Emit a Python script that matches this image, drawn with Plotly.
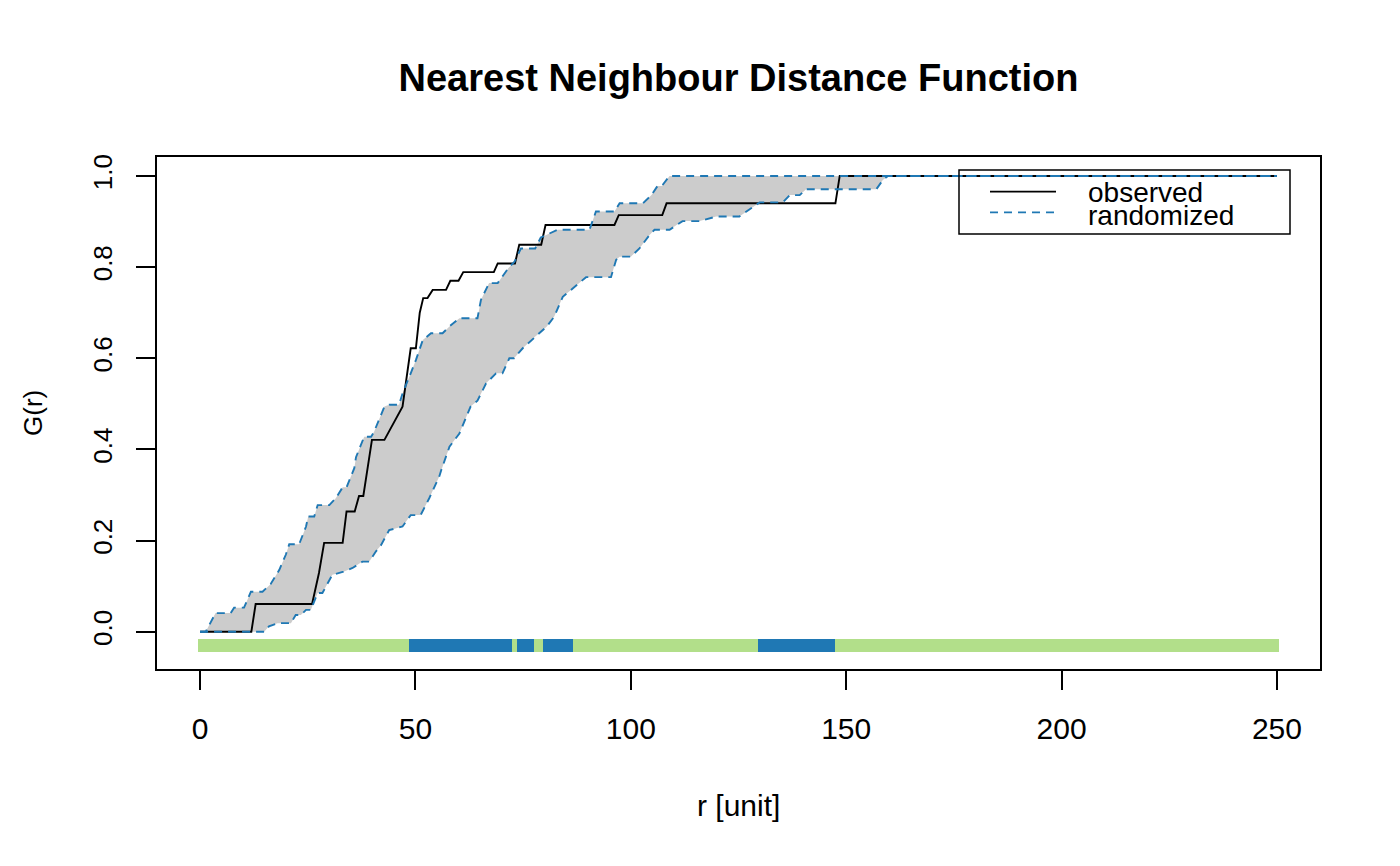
import plotly.graph_objects as go

# ---------------- data ----------------
# observed nearest-neighbour distance function G(r)
r_obs = [0, 11.9, 12.9, 26.0, 27.6, 28.8, 33.1, 34.0, 35.9, 36.9, 37.9, 39.9, 42.8,
         47.0, 48.9, 50.1, 51.0, 51.8, 52.8, 54.0, 57.1, 58.1, 60.0, 61.1, 68.2, 69.1,
         73.1, 74.1, 79.2, 80.2, 96.2, 97.2, 107.3, 108.3, 147.5, 148.5, 250]
g_obs = [0, 0, 0.061, 0.061, 0.129, 0.195, 0.195, 0.264, 0.264, 0.298, 0.298, 0.421, 0.421,
         0.494, 0.622, 0.622, 0.700, 0.732, 0.732, 0.750, 0.750, 0.770, 0.770, 0.789, 0.789, 0.808,
         0.808, 0.849, 0.849, 0.8925, 0.8925, 0.914, 0.914, 0.940, 0.940, 1.0, 1.0]

# upper envelope of randomized simulations
r_hi = [0, 1.3, 3.6, 7.1, 7.9, 10.2, 11.8, 14.5, 16.4, 18.4, 19.9, 20.7, 23.0, 24.6, 25.1,
        26.5, 27.3, 30.0, 31.5, 33.1, 34.0, 35.8, 36.2, 38.1, 39.7, 40.4, 42.8, 43.9, 46.2,
        47.0, 48.9, 50.1, 51.7, 53.6, 56.3, 57.9, 60.2, 64.4, 65.2, 67.1, 69.1, 71.6, 73.0,
        74.5, 77.8, 79.1, 83.0, 90.4, 91.9, 96.2, 97.4, 102.8, 104.8, 106.2, 107.2, 109.0, 250]
g_hi = [0, 0, 0.041, 0.041, 0.053, 0.053, 0.088, 0.088, 0.105, 0.136, 0.169, 0.192, 0.192,
        0.231, 0.253, 0.253, 0.278, 0.278, 0.293, 0.317, 0.317, 0.359, 0.383, 0.428, 0.428,
        0.439, 0.494, 0.498, 0.498, 0.523, 0.567, 0.596, 0.640, 0.655, 0.655, 0.670, 0.688,
        0.688, 0.728, 0.765, 0.765, 0.798, 0.812, 0.841, 0.841, 0.865, 0.882, 0.882, 0.922,
        0.922, 0.940, 0.940, 0.958, 0.978, 0.978, 1.0, 1.0]

# lower envelope of randomized simulations
r_lo = [0, 14.9, 16.0, 18.0, 21.1, 22.2, 23.4, 24.6, 25.7, 27.3, 28.4, 30.7, 33.3, 35.4,
        37.7, 39.3, 40.8, 42.0, 43.9, 47.0, 48.9, 51.2, 53.2, 55.5, 56.0, 57.9, 60.2, 62.1,
        62.8, 64.4, 66.4, 68.7, 70.2, 71.8, 72.9, 74.9, 77.5, 80.5, 82.2, 84.2, 86.1, 89.6,
        95.4, 96.6, 97.4, 100.0, 102.0, 104.3, 105.5, 109.0, 112.0, 116.0, 119.8, 125.2,
        127.6, 129.9, 135.3, 136.9, 139.2, 140.7, 157.0, 158.5, 159.7, 250]
g_lo = [0, 0, 0.012, 0.019, 0.019, 0.037, 0.037, 0.048, 0.048, 0.085, 0.085, 0.125, 0.132,
        0.140, 0.154, 0.154, 0.176, 0.190, 0.223, 0.231, 0.256, 0.256, 0.293, 0.340, 0.355,
        0.406, 0.435, 0.479, 0.494, 0.507, 0.545, 0.567, 0.567, 0.600, 0.600, 0.622, 0.645,
        0.670, 0.691, 0.735, 0.750, 0.778, 0.778, 0.816, 0.823, 0.823, 0.841, 0.870, 0.882,
        0.882, 0.901, 0.901, 0.911, 0.911, 0.927, 0.942, 0.942, 0.958, 0.958, 0.971, 0.971,
        0.991, 1.0, 1.0]

# indicator band: r values where the observed curve leaves the envelope
r_grid = list(range(0, 251))
outside_ranges = [(49, 72), (74, 77), (80, 86), (130, 147)]
band_level = -0.03

x_ticks = [0, 50, 100, 150, 200, 250]
y_ticks = [0.0, 0.2, 0.4, 0.6, 0.8, 1.0]
y_ticklabels = ["0.0", "0.2", "0.4", "0.6", "0.8", "1.0"]

# ---------------- styling ----------------
W, H = 1400, 866
PL, PR, PT, PB = 157, 1320, 157, 669          # plot box in pixels
FONT = "Liberation Sans, Arial, Helvetica, sans-serif"
BLUE = "#1f78b4"
GREEN = "#b2df8a"
GREY = "#cccccc"
DASH = "8px,6px"


def fx(p):
    return (p - PL) / (PR - PL)


def fy(p):
    return (PB - p) / (PB - PT)


inside = [not any(a <= r <= b for a, b in outside_ranges) for r in r_grid]
band_colors = [GREEN if ok else BLUE for ok in inside]
band_half = 0.0142

fig = go.Figure()

# grey envelope
fig.add_trace(go.Scatter(
    x=r_hi + r_lo[::-1], y=g_hi + g_lo[::-1],
    mode="lines", fill="toself", fillcolor=GREY,
    line=dict(width=0), hoverinfo="skip", showlegend=False))

# indicator band
fig.add_trace(go.Bar(
    x=r_grid, y=[2 * band_half] * len(r_grid), base=band_level - band_half,
    width=1, marker=dict(color=band_colors, line=dict(width=0)),
    showlegend=False))

# observed
fig.add_trace(go.Scatter(
    x=r_obs, y=g_obs, mode="lines",
    line=dict(color="black", width=1.9), name="observed", showlegend=False))

# envelope lines
for rr, gg in ((r_hi, g_hi), (r_lo, g_lo)):
    fig.add_trace(go.Scatter(
        x=rr, y=gg, mode="lines",
        line=dict(color=BLUE, width=1.9, dash=DASH),
        name="randomized", showlegend=False))

axis_common = dict(
    showgrid=False, zeroline=False, showline=True, mirror=True,
    linecolor="black", linewidth=1.5, ticks="outside", ticklen=19,
    tickwidth=1.5, tickcolor="black",
)

fig.update_xaxes(range=[-10, 260], tickvals=x_ticks,
                 tickfont=dict(family=FONT, size=30, color="black"),
                 ticklabelstandoff=13, **axis_common)
fig.update_yaxes(range=[-0.0816, 1.0416], tickvals=y_ticks, ticktext=y_ticklabels,
                 tickangle=-90,
                 tickfont=dict(family=FONT, size=26, color="black"),
                 ticklabelstandoff=14, **axis_common)

# legend (drawn like base-R legend)
shapes = [
    dict(type="rect", xref="paper", yref="paper",
         x0=fx(959), x1=fx(1290), y0=fy(234), y1=fy(170),
         line=dict(color="black", width=1.5)),
    dict(type="line", xref="paper", yref="paper",
         x0=fx(990), x1=fx(1056), y0=fy(191.7), y1=fy(191.7),
         line=dict(color="black", width=1.8)),
    dict(type="line", xref="paper", yref="paper",
         x0=fx(990), x1=fx(1056), y0=fy(212.3), y1=fy(212.3),
         line=dict(color=BLUE, width=1.8, dash=DASH)),
]
annotations = [
    dict(text="observed", xref="paper", yref="paper", x=fx(1086), y=fy(192),
         xanchor="left", yanchor="middle", showarrow=False,
         font=dict(family=FONT, size=28, color="black")),
    dict(text="randomized", xref="paper", yref="paper", x=fx(1086), y=fy(215),
         xanchor="left", yanchor="middle", showarrow=False,
         font=dict(family=FONT, size=28, color="black")),
    dict(text="r [unit]", xref="paper", yref="paper", x=0.5, y=fy(805),
         xanchor="center", yanchor="middle", showarrow=False,
         font=dict(family=FONT, size=30, color="black")),
    dict(text="G(r)", xref="paper", yref="paper", x=fx(33), y=0.5, textangle=-90,
         xanchor="center", yanchor="middle", showarrow=False,
         font=dict(family=FONT, size=26, color="black")),
]

fig.update_layout(
    width=W, height=H,
    margin=dict(l=PL, r=W - PR, t=PT, b=H - PB, pad=0),
    paper_bgcolor="white", plot_bgcolor="white",
    bargap=0, showlegend=False,
    title=dict(text="<b>Nearest Neighbour Distance Function</b>",
               x=(PL + PR) / 2 / W, xanchor="center",
               y=1 - 78 / H, yanchor="middle", yref="container", xref="container",
               font=dict(family=FONT, size=38, color="black")),
    shapes=shapes, annotations=annotations,
)

fig.write_html("out.html")
